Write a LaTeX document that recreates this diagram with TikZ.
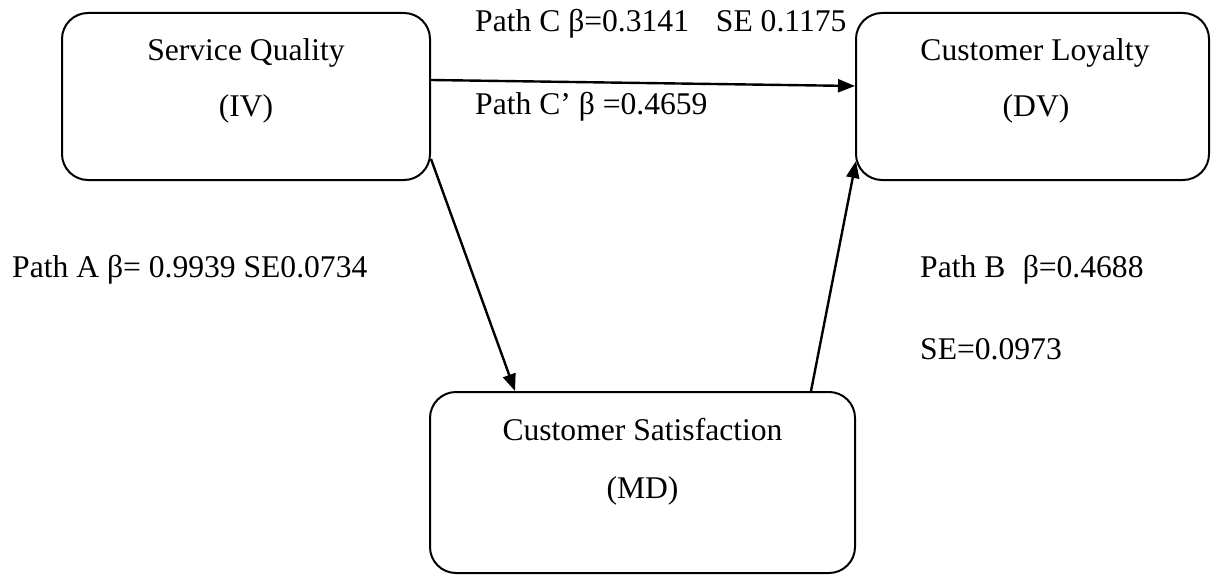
\documentclass[tikz,border=0pt]{standalone}
\usepackage{fontspec}
\setmainfont{Liberation Serif}
\usetikzlibrary{arrows.meta}
\newcommand{\diagfont}{\fontsize{31.6}{38}\selectfont}
\tikzset{
  varbox/.style={draw, line width=2pt, rounded corners=26pt, inner sep=0pt},
  boxtext/.style={font=\diagfont, anchor=base, inner sep=0pt},
  pathlbl/.style={font=\diagfont, anchor=base west, inner sep=0pt},
  effect/.style={line width=2.4pt, -{Triangle[length=17pt,width=13pt]}}
}
\begin{document}
\begin{tikzpicture}[x=1pt, y=-1pt]
\useasboundingbox (0,0) rectangle (1212,575);

% variable boxes
\node[varbox, minimum width=368pt, minimum height=167pt] (sq) at (246,96.5) {};
\node[varbox, minimum width=353pt, minimum height=167pt] (cl) at (1032.5,96.5) {};
\node[varbox, minimum width=425pt, minimum height=181pt] (cs) at (642.5,482.5) {};

% box captions
\node[boxtext] (sqname) at (246,61) {Service Quality};
\node[boxtext] (sqrole) at (246,117) {(IV)};
\node[boxtext] (clname) at (1035,61) {Customer Loyalty};
\node[boxtext] (clrole) at (1036,117) {(DV)};
\node[boxtext] (csname) at (642.5,440) {Customer Satisfaction};
\node[boxtext] (csrole) at (642.5,498) {(MD)};

% paths between the variables
\draw[effect] ([yshift=16.5pt]sq.east) -- ([yshift=10.5pt]cl.west);
\draw[effect] ([yshift=22pt]sq.south east) -- ([xshift=-127.5pt]cs.north);
\draw[effect] ([xshift=168.5pt]cs.north) -- ([xshift=1pt,yshift=20pt]cl.south west);

% path coefficients
\node[pathlbl] (pc) at (475,32) {Path C β=0.3141\hspace{0.85em}SE 0.1175};
\node[pathlbl] (pcp) at (475,115) {Path C’ β =0.4659};
\node[pathlbl] (pa) at (12,277) {Path A β= 0.9939 SE0.0734};
\node[pathlbl] (pb) at (920,277) {Path B\hspace{0.55em}β=0.4688};
\node[pathlbl] (pbse) at (920,359) {SE=0.0973};
\end{tikzpicture}
\end{document}
